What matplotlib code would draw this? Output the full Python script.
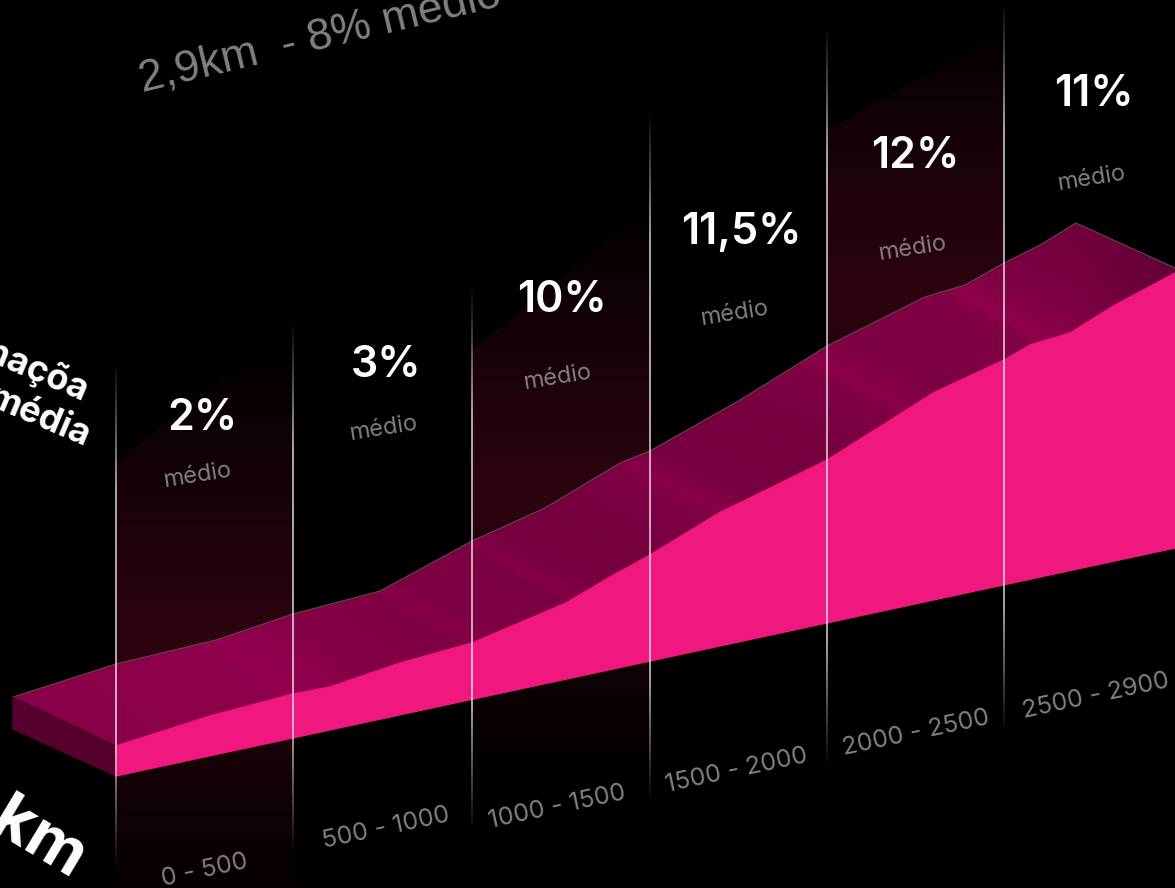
import numpy as np
import matplotlib
matplotlib.use('Agg')
import matplotlib.pyplot as plt
from matplotlib.colors import LinearSegmentedColormap
from matplotlib.patches import Polygon

# perfil (coordenadas, em px)
ridge_x = [13, 116, 216, 293, 380, 472, 545, 620, 650, 740, 827, 925, 965, 1004, 1040, 1076, 1175]
ridge_y = [697, 664, 640, 614, 591, 541, 508, 463, 451, 400, 346, 297, 285, 263, 245, 223, 268]
front_x = [116, 210, 293, 330, 400, 472, 566, 610, 650, 719, 758, 827, 935, 1004, 1030, 1070, 1115, 1175]
front_y = [746, 716, 694, 687, 663, 643, 603, 577, 555, 513, 494, 460, 392, 360, 345, 333, 305, 273]
base_x = [116, 1175]
base_y = [776, 548]
side_x = [13, 116, 116, 13]
side_y = [697, 746, 776, 729]

col_x = [116, 293, 472, 650, 827, 1004]
col_top = [360, 320, 285, 110, 25, 0]
col_bottom = [870, 855, 835, 805, 770, 735]
# canto superior das faixas escuras (esq, dir)
band_top_l = [462, 350, 130]
band_top_r = [320, 205, 30]

medias = ['2%', '3%', '10%', '11,5%', '12%', '11%']
media_x = [203, 386, 562, 741, 915, 1094]
media_y = [418, 365, 300, 232, 157, 94]
medio_x = [197, 383, 557, 734, 912, 1091]
medio_y = [476, 429, 378, 314, 249, 179]
faixas = ['0 - 500', '500 - 1000', '1000 - 1500', '1500 - 2000', '2000 - 2500', '2500 - 2900']
faixa_x = [205, 386, 557, 737, 916, 1096]
faixa_y = [871, 828, 807, 771, 733, 696]

# sombra da superficie: cada estria nasce num vertice da crista
shade_x = [0, 116, 200, 216, 290, 370, 380, 400, 462, 472, 490, 545, 615, 625, 650, 720, 795, 805, 850, 940, 950, 1004, 1076, 1175]
shade_v = [0.82, 0.85, 0.88, 0.95, 0.78, 0.72, 0.82, 0.70, 0.68, 0.80, 0.66, 0.60, 0.74, 0.84, 0.66, 0.62, 0.72, 0.86, 0.68, 0.74, 0.88, 0.68, 0.56, 0.42]

plt.rcParams['font.family'] = ['Inter', 'DejaVu Sans']

fig = plt.figure(figsize=(11.75, 8.88), dpi=100, facecolor='black')
ax = fig.add_axes([0, 0, 1, 1])
ax.set_xlim(0, 1175)
ax.set_ylim(888, 0)
ax.axis('off')

# faixas escuras com gradiente
band_cmap = LinearSegmentedColormap.from_list('band', ['#000000', '#2e040f'])
for n, i in enumerate([0, 2, 4]):
    x0, x1 = col_x[i], col_x[i + 1]
    yy = np.linspace(0, 888, 300)
    mid = np.interp((x0 + x1) / 2, ridge_x, ridge_y)
    g = np.where(yy < mid, np.clip((yy - (mid - 300)) / 300, 0, 1),
                 np.clip(1 - (yy - mid) / 340, 0, 1) ** 1.6)
    im = ax.imshow(g[:, None], extent=[x0, x1, 888, 0], aspect='auto', cmap=band_cmap,
                   vmin=0, vmax=1, zorder=1)
    clip = Polygon([(x0, band_top_l[n]), (x1, band_top_r[n]), (x1, 888), (x0, 888)], transform=ax.transData)
    im.set_clip_path(clip)

# superficie do perfil, com estrias inclinadas
surf_cmap = LinearSegmentedColormap.from_list('surf', ['#3d0024', '#990050'])
X, Y = np.meshgrid(np.linspace(0, 1175, 1175), np.linspace(0, 888, 888))
depth = Y - np.interp(X, ridge_x, ridge_y)
im = ax.imshow(np.interp(X - depth / 1.05, shade_x, shade_v), extent=[0, 1175, 888, 0], aspect='auto',
               cmap=surf_cmap, vmin=0, vmax=1, zorder=2)
top_poly = list(zip(ridge_x, ridge_y)) + list(zip(front_x[::-1], front_y[::-1])) + [(13, 697)]
im.set_clip_path(Polygon(top_poly, transform=ax.transData))
ax.plot(ridge_x, ridge_y, color='#5a4a52', lw=0.8, zorder=3)

ax.fill(side_x, side_y, color='#55002d', zorder=3)
ax.fill(front_x + base_x[::-1], front_y + base_y[::-1], color='#f0177f', zorder=4)

# linhas verticais
for x, t, b in zip(col_x, col_top, col_bottom):
    yy = np.linspace(t, b, 200)
    rgba = np.ones((200, 1, 4))
    rgba[:, 0, 3] = np.clip((yy - t) / 130, 0, 1) * np.clip((b - yy) / 130, 0, 1) * 0.65
    ax.imshow(rgba, extent=[x - 0.8, x + 0.8, b, t], aspect='auto', zorder=5)
ax.set_xlim(0, 1175)
ax.set_ylim(888, 0)

# textos
for s, x, y in zip(medias, media_x, media_y):
    ax.text(x, y, s, color='white', fontsize=31, fontweight='semibold', ha='center', va='center', zorder=6)
for x, y in zip(medio_x, medio_y):
    ax.text(x, y, 'médio', color='#808080', fontsize=17, rotation=9, ha='center', va='center', zorder=6)
for s, x, y in zip(faixas, faixa_x, faixa_y):
    ax.text(x, y, s, color='#808080', fontsize=18, rotation=12, ha='center', va='center', zorder=6)

ax.text(143, 93, '2,9km  - 8% médio  - 13,5%', color='#808080', fontsize=32, rotation=13.5,
        rotation_mode='anchor', ha='left', va='baseline', family=['Liberation Sans'], zorder=6)
ax.text(83, 402, 'Inclinaçõa', color='white', fontsize=26, fontweight='bold', rotation=-23,
        rotation_mode='anchor', ha='right', va='baseline', zorder=6)
ax.text(85, 447, 'média', color='white', fontsize=26, fontweight='bold', rotation=-23,
        rotation_mode='anchor', ha='right', va='baseline', zorder=6)
ax.text(72, 878, '2,9 km', color='white', fontsize=47, fontweight='bold', rotation=-31,
        rotation_mode='anchor', ha='right', va='baseline', zorder=6)

fig.savefig('out.png', dpi=100, facecolor='black')
